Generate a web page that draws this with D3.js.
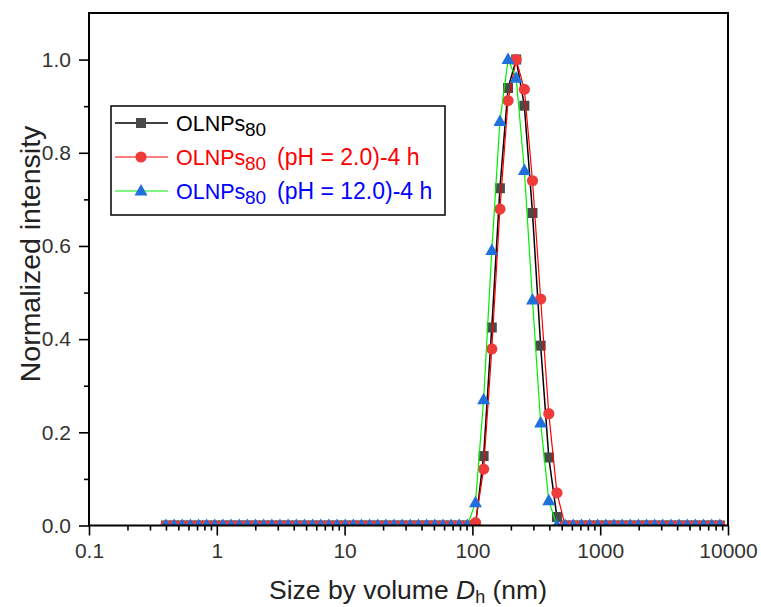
<!DOCTYPE html>
<html>
<head>
<meta charset="utf-8">
<script src="https://cdn.jsdelivr.net/npm/d3@7/dist/d3.min.js"></script>
<style>
  html, body { margin: 0; padding: 0; background: #fff; }
  svg { display: block; font-family: "Liberation Sans", Arial, sans-serif; }
</style>
</head>
<body>
<svg id="chart" width="761" height="607"></svg>
<script>
// Size bins (nm) of the volume distribution
const sizes = [0.4, 0.4632, 0.5365, 0.6213, 0.7195, 0.8332, 0.9649, 1.117, 1.294, 1.499,
  1.736, 2.01, 2.328, 2.696, 3.122, 3.615, 4.187, 4.849, 5.615, 6.503,
  7.531, 8.721, 10.1, 11.7, 13.54, 15.69, 18.17, 21.04, 24.36, 28.21,
  32.67, 37.84, 43.82, 50.75, 58.77, 68.06, 78.82, 91.28, 105.7, 122.4,
  141.8, 164.2, 190.1, 220.2, 255.0, 295.3, 342.0, 396.1, 458.7, 531.2,
  615.1, 712.4, 825.0, 955.4, 1106, 1281, 1484, 1718, 1990, 2305,
  2669, 3091, 3580, 4145, 4801, 5560, 6439, 7456, 8635];

// Normalized intensity of each sample, one value per size bin
const olnps80 = [0, 0, 0, 0, 0, 0, 0, 0, 0, 0,
  0, 0, 0, 0, 0, 0, 0, 0, 0, 0,
  0, 0, 0, 0, 0, 0, 0, 0, 0, 0,
  0, 0, 0, 0, 0, 0, 0, 0, 0, 0.149,
  0.425, 0.724, 0.939, 1.0, 0.901, 0.671, 0.386, 0.146, 0.018, 0,
  0, 0, 0, 0, 0, 0, 0, 0, 0, 0,
  0, 0, 0, 0, 0, 0, 0, 0, 0];

const olnps80pH2 = [0, 0, 0, 0, 0, 0, 0, 0, 0, 0,
  0, 0, 0, 0, 0, 0, 0, 0, 0, 0,
  0, 0, 0, 0, 0, 0, 0, 0, 0, 0,
  0, 0, 0, 0, 0, 0, 0, 0, 0.006, 0.121,
  0.379, 0.679, 0.912, 1.0, 0.936, 0.74, 0.486, 0.24, 0.07, 0,
  0, 0, 0, 0, 0, 0, 0, 0, 0, 0,
  0, 0, 0, 0, 0, 0, 0, 0, 0];

const olnps80pH12 = [0, 0, 0, 0, 0, 0, 0, 0, 0, 0,
  0, 0, 0, 0, 0, 0, 0, 0, 0, 0,
  0, 0, 0, 0, 0, 0, 0, 0, 0, 0,
  0, 0, 0, 0, 0, 0, 0, 0, 0.049, 0.27,
  0.59, 0.867, 1.0, 0.96, 0.762, 0.484, 0.22, 0.053, 0, 0,
  0, 0, 0, 0, 0, 0, 0, 0, 0, 0,
  0, 0, 0, 0, 0, 0, 0, 0, 0];

const xTicks = [0.1, 1, 10, 100, 1000, 10000];
const xTickLabels = ["0.1", "1", "10", "100", "1000", "10000"];
const yTicks = [0.0, 0.2, 0.4, 0.6, 0.8, 1.0];
const yMinorTicks = [0.1, 0.3, 0.5, 0.7, 0.9];

const seriesNames = ["OLNPs", "OLNPs", "OLNPs"];
const seriesSubs = ["80", "80", "80"];
const seriesSuffixes = ["", "(pH = 2.0)-4 h", "(pH = 12.0)-4 h"];

const series = [
  { values: olnps80, line: "#000000", lineWidth: 1.5, fill: "#4a4a4a", symbol: "square", textColor: "#000000" },
  { values: olnps80pH2, line: "#ff0000", lineWidth: 1.2, fill: "#ef3b3b", symbol: "circle", textColor: "#ff0000" },
  { values: olnps80pH12, line: "#00ee00", lineWidth: 1.2, fill: "#1f6fdc", symbol: "triangle", textColor: "#0000ff" }
];

const plot = { left: 89, right: 728, top: 13, bottom: 525.5 };
const svg = d3.select("#chart");

const x = d3.scaleLog().domain([0.1, 10000]).range([plot.left, plot.right]);
const y = d3.scaleLinear().domain([0, 1.1]).range([plot.bottom, plot.top]);

svg.append("defs").append("clipPath").attr("id", "plot-clip")
  .append("rect")
  .attr("x", plot.left).attr("y", plot.top)
  .attr("width", plot.right - plot.left).attr("height", plot.bottom - plot.top);

function symbolPath(kind) {
  if (kind === "square") return "M-5,-5H5V5H-5Z";
  if (kind === "circle") return d3.symbol(d3.symbolCircle, Math.PI * 5.6 * 5.6)();
  return "M0,-7L6.5,4.5L-6.5,4.5Z";
}

// Data series: line, then symbols, clipped to the frame
const dataLayer = svg.append("g").attr("clip-path", "url(#plot-clip)");
const line = d3.line().x((d, i) => x(sizes[i])).y(d => y(d));

series.forEach(s => {
  const g = dataLayer.append("g");
  g.append("path")
    .datum(s.values)
    .attr("d", line)
    .attr("fill", "none")
    .attr("stroke", s.line)
    .attr("stroke-width", s.lineWidth);
  g.selectAll("path.marker")
    .data(s.values)
    .join("path")
    .attr("class", "marker")
    .attr("transform", (d, i) => `translate(${x(sizes[i])},${y(d)})`)
    .attr("d", symbolPath(s.symbol))
    .attr("fill", s.fill);
});

// Axes
const tickColor = "#333";
const xAxis = svg.append("g")
  .attr("transform", `translate(0,${plot.bottom})`)
  .call(d3.axisBottom(x).tickValues(xTicks).tickSize(10).tickPadding(8)
    .tickFormat((d, i) => xTickLabels[i]));
const xMinor = [];
[0.1, 1, 10, 100, 1000].forEach(base => {
  for (let k = 2; k <= 9; k++) xMinor.push(base * k);
});
const xAxisMinor = svg.append("g")
  .attr("transform", `translate(0,${plot.bottom})`)
  .call(d3.axisBottom(x).tickValues(xMinor).tickSize(5).tickFormat(""));

const yAxis = svg.append("g")
  .attr("transform", `translate(${plot.left},0)`)
  .call(d3.axisLeft(y).tickValues(yTicks).tickSize(10).tickPadding(8)
    .tickFormat(d3.format(".1f")));
const yAxisMinor = svg.append("g")
  .attr("transform", `translate(${plot.left},0)`)
  .call(d3.axisLeft(y).tickValues(yMinorTicks).tickSize(5).tickFormat(""));

[xAxis, xAxisMinor, yAxis, yAxisMinor].forEach(a => {
  a.select(".domain").remove();
  a.selectAll(".tick line").attr("stroke", "#000").attr("stroke-width", 1.6);
  a.selectAll(".tick text")
    .attr("fill", tickColor)
    .style("font-size", "21px")
    .style("font-family", "'Liberation Sans', Arial, sans-serif");
});

// Frame
svg.append("rect")
  .attr("x", plot.left).attr("y", plot.top)
  .attr("width", plot.right - plot.left).attr("height", plot.bottom - plot.top)
  .attr("fill", "none").attr("stroke", "#000").attr("stroke-width", 2);

// Axis titles
svg.append("text")
  .attr("transform", `translate(30,254) rotate(-90)`)
  .attr("text-anchor", "middle")
  .attr("dominant-baseline", "central")
  .attr("fill", "#222")
  .style("font-size", "28.5px")
  .text("Normalized intensity");

const xTitle = svg.append("text")
  .attr("x", 408).attr("y", 599)
  .attr("text-anchor", "middle")
  .attr("fill", "#222")
  .style("font-size", "26.5px");
xTitle.append("tspan").text("Size by volume ");
xTitle.append("tspan").style("font-style", "italic").text("D");
xTitle.append("tspan").attr("dy", 4).style("font-size", "18px").text("h");
xTitle.append("tspan").attr("dy", -4).text(" (nm)");

// Legend
const legend = svg.append("g");
legend.append("rect")
  .attr("x", 111).attr("y", 106).attr("width", 334).attr("height", 109)
  .attr("fill", "#fff").attr("stroke", "#000").attr("stroke-width", 1.5);

series.forEach((s, i) => {
  const baseY = 131 + i * 34;
  const cy = baseY - 8;
  legend.append("line")
    .attr("x1", 115).attr("x2", 168).attr("y1", cy).attr("y2", cy)
    .attr("stroke", s.line).attr("stroke-width", s.lineWidth);
  legend.append("path")
    .attr("transform", `translate(141,${cy})`)
    .attr("d", symbolPath(s.symbol))
    .attr("fill", s.fill);
  const t = legend.append("text")
    .attr("y", baseY)
    .attr("fill", s.textColor)
    .style("font-size", "21.5px");
  t.append("tspan").attr("x", 176).text(seriesNames[i]);
  t.append("tspan").attr("x", 245).attr("dy", 5).style("font-size", "19px").text(seriesSubs[i]);
  if (seriesSuffixes[i]) {
    t.append("tspan").attr("x", 277).attr("dy", -5).style("font-size", "23px").text(seriesSuffixes[i]);
  }
});
</script>
</body>
</html>
